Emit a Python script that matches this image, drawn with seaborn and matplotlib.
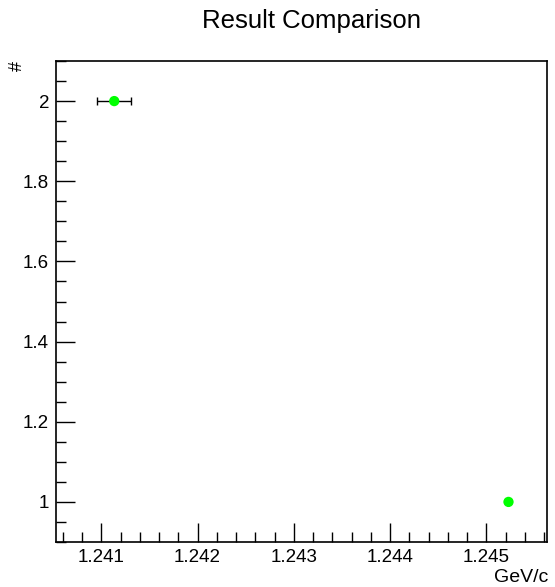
import numpy as np
import pandas as pd
import matplotlib
matplotlib.use("Agg")
import matplotlib.pyplot as plt
import seaborn as sns
from matplotlib.ticker import MultipleLocator, FormatStrFormatter, FuncFormatter

# values
mass = [1.241135, 1.24523]
counts = [2, 1]
mass_err = [0.000176, 0.0]

sns.set_style("ticks")
plt.rcParams['font.family'] = ['Liberation Sans', 'DejaVu Sans']
plt.rcParams['text.color'] = 'black'
plt.rcParams['xtick.color'] = 'black'
plt.rcParams['ytick.color'] = 'black'
plt.rcParams['axes.edgecolor'] = 'black'

df = pd.DataFrame({'mass': mass, 'counts': counts, 'err': mass_err})

fig = plt.figure(figsize=(5.55, 5.87), dpi=100)
ax = fig.add_axes([56 / 555, 1 - 542 / 587, (547 - 56) / 555, (542 - 61) / 587])

ax.errorbar(df['mass'], df['counts'], xerr=df['err'], fmt='none',
            ecolor='black', elinewidth=1, capsize=3, capthick=1, zorder=2)
sns.scatterplot(data=df, x='mass', y='counts', color='#00ff00', s=55,
                edgecolor='none', ax=ax, zorder=3)

ax.set_xlim(1.24053, 1.24563)
ax.set_ylim(0.9, 2.1)

ax.xaxis.set_major_locator(MultipleLocator(0.001))
ax.xaxis.set_minor_locator(MultipleLocator(0.0002))
ax.yaxis.set_major_locator(MultipleLocator(0.2))
ax.yaxis.set_minor_locator(MultipleLocator(0.05))
ax.xaxis.set_major_formatter(FormatStrFormatter('%.3f'))
ax.yaxis.set_major_formatter(FuncFormatter(lambda v, p: ('%.1f' % v).rstrip('0').rstrip('.')))

ax.tick_params(axis='both', which='major', direction='in', length=14, width=1,
               labelsize=13.5, pad=5, colors='black')
ax.tick_params(axis='both', which='minor', direction='in', length=7, width=1, colors='black')
for s in ax.spines.values():
    s.set_linewidth(1.2)
    s.set_color('black')
    s.set_visible(True)

ax.set_xlabel('')
ax.set_ylabel('')
fig.text(548 / 555, 1 - 577 / 587, 'GeV/c', ha='right', va='center', fontsize=14)
fig.text(17 / 555, 1 - 66 / 587, '#', ha='center', va='center', fontsize=13, rotation=90)
fig.text(311 / 555, 1 - 21 / 587, 'Result Comparison', ha='center', va='center', fontsize=18.5)

fig.savefig('out.png', dpi=100)
